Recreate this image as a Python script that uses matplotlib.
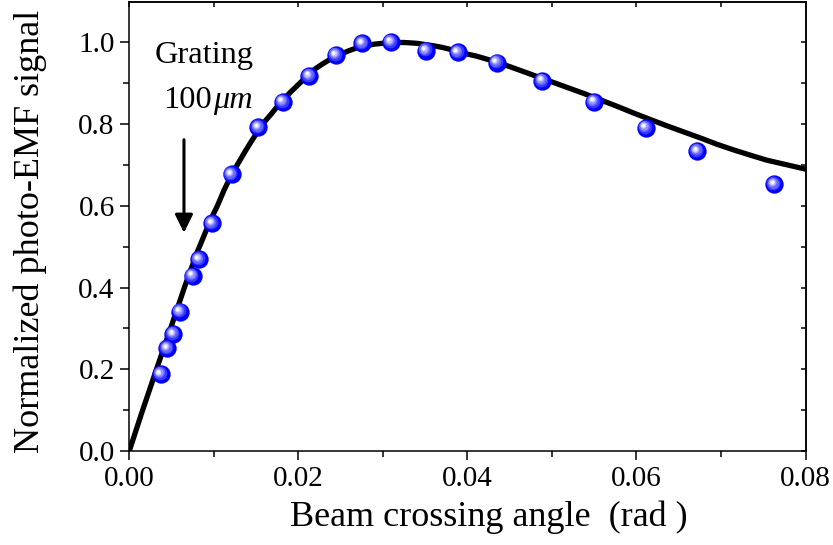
import matplotlib
matplotlib.use("Agg")
import matplotlib.pyplot as plt
from matplotlib.transforms import offset_copy

plt.rcParams['font.family'] = ['Liberation Serif', 'DejaVu Serif']

# Measured photo-EMF signal vs. beam crossing angle
angle = [0.00372, 0.0045, 0.0052, 0.0060, 0.0075, 0.00825, 0.0098, 0.0121,
         0.01527, 0.01815, 0.0213, 0.02446, 0.02757, 0.03097,
         0.0351, 0.03886, 0.04348, 0.04888, 0.0550, 0.0611, 0.0672, 0.0763]
signal = [0.188, 0.251, 0.286, 0.341, 0.429, 0.469, 0.557, 0.677,
          0.792, 0.855, 0.918, 0.969, 0.998, 1.001,
          0.980, 0.976, 0.951, 0.906, 0.855, 0.791, 0.734, 0.653]

# Theoretical curve
fit_angle = [0.0, 0.0015, 0.0033, 0.0050, 0.0066, 0.0081, 0.0096, 0.0104,
             0.0112, 0.0121, 0.0129, 0.0137, 0.0145, 0.0153, 0.0160, 0.0168,
             0.0175, 0.0182, 0.0190, 0.0198, 0.0206, 0.0213, 0.0221, 0.0229,
             0.0237, 0.0245, 0.0253, 0.0260, 0.0268, 0.0276, 0.0283, 0.0290,
             0.0300, 0.0310, 0.0318, 0.0325, 0.0333, 0.0340, 0.0350, 0.0360,
             0.0370, 0.0380, 0.0390, 0.0399, 0.0410, 0.0420, 0.0430, 0.0439,
             0.0458, 0.0478, 0.0498, 0.0518, 0.0538, 0.0558, 0.0578, 0.0597,
             0.0617, 0.0636, 0.0656, 0.0676, 0.0695, 0.0715, 0.0735, 0.0754,
             0.0777, 0.0800]
fit_signal = [0.0, 0.095, 0.205, 0.307, 0.405, 0.490, 0.565, 0.599,
              0.638, 0.676, 0.705, 0.733, 0.760, 0.785, 0.806, 0.825,
              0.843, 0.859, 0.877, 0.893, 0.909, 0.925, 0.937, 0.948,
              0.958, 0.967, 0.974, 0.980, 0.986, 0.990, 0.993, 0.996,
              0.998, 1.000, 1.000, 1.000, 0.999, 0.998, 0.995, 0.992,
              0.988, 0.983, 0.978, 0.972, 0.967, 0.961, 0.955, 0.949,
              0.935, 0.920, 0.905, 0.890, 0.875, 0.859, 0.843, 0.827,
              0.811, 0.796, 0.781, 0.766, 0.751, 0.737, 0.724, 0.712,
              0.701, 0.690]

x_major = [0.00, 0.02, 0.04, 0.06, 0.08]
x_major_labels = ['0.00', '0.02', '0.04', '0.06', '0.08']
x_minor = [0.01, 0.03, 0.05, 0.07]
y_major = [0.0, 0.2, 0.4, 0.6, 0.8, 1.0]
y_major_labels = ['0.0', '0.2', '0.4', '0.6', '0.8', '1.0']
y_minor = [0.1, 0.3, 0.5, 0.7, 0.9]

fig = plt.figure(figsize=(8.33, 5.45), dpi=100)
ax = fig.add_axes([0.1552, 0.1725, 0.8118, 0.8245])
ax.set_xlim(0, 0.08)
ax.set_ylim(0, 1.1)

ax.plot(fit_angle, fit_signal, color='black', lw=3.8, solid_capstyle='butt',
        solid_joinstyle='round', zorder=3)

# Shaded spheres: blue base plus progressively lighter, smaller discs
ax.plot(angle, signal, ls='none', marker='o', ms=13.2, mfc=(0.0, 0.0, 1.0),
        mec='none', zorder=4)
layers = [(10.0, (0.22, 0.22, 1.0), 1.2),
          (8.0, (0.40, 0.40, 1.0), 1.7),
          (6.0, (0.58, 0.58, 1.0), 2.1),
          (4.4, (0.76, 0.76, 1.0), 2.4),
          (3.0, (0.90, 0.90, 1.0), 2.6),
          (1.8, (1.0, 1.0, 1.0), 2.7)]
for size, col, off in layers:
    tr = offset_copy(ax.transData, fig=fig, x=-off, y=off, units='dots')
    ax.plot(angle, signal, ls='none', marker='o', ms=size, mfc=col,
            mec='none', transform=tr, zorder=5)

ax.set_xticks(x_major)
ax.set_xticklabels(x_major_labels)
ax.set_xticks(x_minor, minor=True)
ax.set_yticks(y_major)
ax.set_yticklabels(y_major_labels)
ax.set_yticks(y_minor, minor=True)
ax.tick_params(which='major', direction='out', length=6.5, width=1.1,
               labelsize=21, pad=4)
ax.tick_params(which='minor', direction='out', length=4.2, width=1.1)
for s in ax.spines.values():
    s.set_linewidth(1.1)

top = ax.secondary_xaxis('top')
top.set_xticks(x_major + x_minor)
top.tick_params(direction='in', length=3.5, width=1.1, labeltop=False)
top.spines['top'].set_linewidth(1.1)
right = ax.secondary_yaxis('right')
right.set_yticks(y_major + y_minor)
right.tick_params(direction='in', length=3.5, width=1.1, labelright=False)
right.spines['right'].set_linewidth(1.1)

# Arrow and annotation
ax.annotate('', xy=(0.00647, 0.534), xytext=(0.00647, 0.762),
            arrowprops=dict(arrowstyle='-|>,head_length=0.55,head_width=0.27',
                            mutation_scale=20, lw=2.2, color='black',
                            shrinkA=0, shrinkB=0))
ax.text(0.00884, 0.950, 'Grating', fontsize=23.3, ha='center', va='baseline')
ax.text(0.00395, 0.840, '100', fontsize=23.3, ha='left', va='baseline')
ax.text(0.0099, 0.840, 'μm', fontsize=23.3, ha='left', va='baseline',
        style='italic')

fig.text(0.587, 0.051, 'Beam crossing angle  (rad )', fontsize=26,
         ha='center', va='center')
fig.text(0.036, 0.576, 'Normalized photo-EMF signal', fontsize=26,
         ha='center', va='center', rotation=90)

fig.savefig('out.png', dpi=100)
